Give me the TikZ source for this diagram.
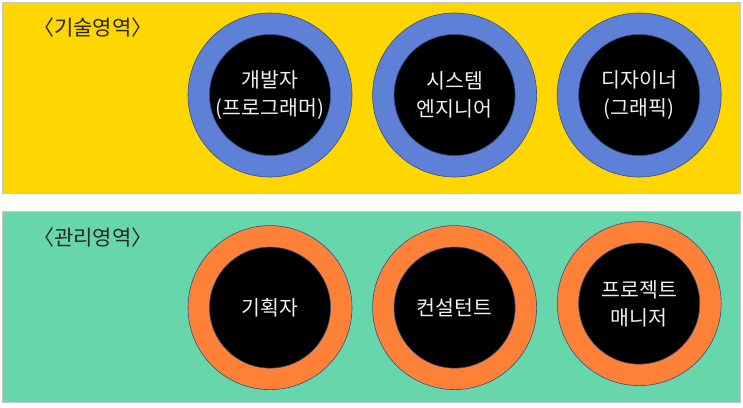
\documentclass[tikz,border=0pt]{standalone}
\usepackage{fontspec}
\setmainfont{Noto Sans CJK KR}
\usetikzlibrary{positioning}
\definecolor{techyellow}{RGB}{255,214,0}
\definecolor{mgmtgreen}{RGB}{103,215,171}
\definecolor{ringblue}{RGB}{94,128,214}
\definecolor{ringorange}{RGB}{255,129,56}
\definecolor{edgeblue}{RGB}{52,78,138}
\definecolor{textgray}{RGB}{240,240,240}
\tikzset{
  band/.style={draw=black!22, line width=1pt, anchor=north west, inner sep=0pt, outer sep=0pt, minimum width=738pt, minimum height=191pt},
  areatitle/.style={anchor=west, inner sep=0pt, font=\fontsize{21}{24}\selectfont, text=black!85},
  ring/.style={circle, draw=edgeblue, line width=0.6pt, inner sep=0pt, minimum size=164pt},
  core/.style={circle, draw=edgeblue, line width=0.6pt, fill=black, inner sep=0pt, minimum size=121pt, align=center, text=textgray, font=\fontsize{20.5}{28}\selectfont}
}
\begin{document}
\begin{tikzpicture}[x=1pt, y=-1pt, node distance=48pt and 20pt]
  \useasboundingbox (0,0) rectangle (743,407);
  % two areas
  \node[band, fill=techyellow] (tech) at (2,2) {};
  \node[band, fill=mgmtgreen] (mgmt) at (2,211) {};
  \node[areatitle] (techtitle) at (33,28) {〈기술영역〉};
  \node[areatitle] (mgmttitle) at (33,238) {〈관리영역〉};

  % technical roles
  \node[ring, fill=ringblue] (dev) at (270,95) {};
  \node[ring, fill=ringblue, right=of dev] (sys) {};
  \node[ring, fill=ringblue, right=of sys] (des) {};
  \node[core] (devin) at (dev) {개발자\\(프로그래머)};
  \node[core] (sysin) at (sys) {시스템\\엔지니어};
  \node[core] (desin) at (des) {디자이너\\(그래픽)};

  % management roles
  \node[ring, fill=ringorange, below=of dev] (plan) {};
  \node[ring, fill=ringorange, below=of sys] (cons) {};
  \node[ring, fill=ringorange, below=of des, yshift=4pt] (pm) {};
  \node[core] (planin) at (plan) {기획자};
  \node[core] (consin) at (cons) {컨설턴트};
  \node[core] (pmin) at (pm) {프로젝트\\매니저};
\end{tikzpicture}
\end{document}
